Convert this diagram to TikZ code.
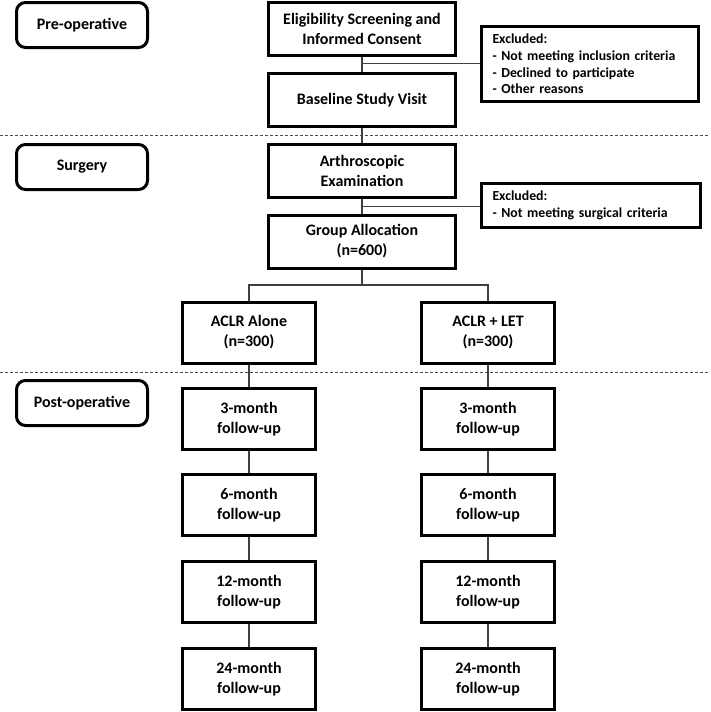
\documentclass[tikz,border=0pt]{standalone}
\usepackage{fontspec}
\setmainfont{Carlito}
\usetikzlibrary{calc}
\begin{document}
\begin{tikzpicture}[x=1pt,y=-1pt,
  mainfont/.style={font=\bfseries\fontsize{16}{20}\selectfont},
  stagebox/.style={draw=black, line width=3pt, rounded corners=9pt, minimum width=131pt, minimum height=45pt, align=center, inner sep=1pt, mainfont},
  flowbox/.style={draw=black, line width=3pt, minimum width=187pt, minimum height=53pt, align=center, inner sep=1pt, mainfont},
  armbox/.style={draw=black, line width=3pt, minimum width=133pt, minimum height=61pt, align=center, inner sep=1pt, mainfont},
  exclbox/.style={draw=black, line width=3pt, align=left, inner xsep=11pt, inner ysep=1pt, font=\bfseries\fontsize{13.8}{16.8}\selectfont},
  conn/.style={draw=black!75, line width=1.1pt},
  divider/.style={draw=black!70, line width=0.9pt, dash pattern=on 3pt off 2pt}
]
\useasboundingbox (0,0) rectangle (710,712);

% dividers
\coordinate (d1l) at (0,135);
\coordinate (d1r) at (708,135);
\coordinate (d2l) at (0,372);
\coordinate (d2r) at (710,372);
\draw[divider] (d1l) -- (d1r);
\draw[divider] (d2l) -- (d2r);

% stage labels
\node[stagebox] (pre) at (82,25) {Pre-operative};
\node[stagebox] (surg) at (82,167) {Surgery};
\node[stagebox] (post) at (82,403) {Post-operative};

% main column
\node[flowbox] (elig) at (362,28.5) {Eligibility Screening and\\Informed Consent};
\node[flowbox] (base) at (362,100) {Baseline Study Visit};
\node[flowbox] (arth) at (362,170.5) {Arthroscopic\\Examination};
\node[flowbox] (grp) at (362,241.5) {Group Allocation\\(n=600)};

% exclusion boxes
\node[exclbox, text width=195pt, minimum height=75pt] (ex1) at (590,64) {Excluded:\\- Not meeting inclusion criteria\\- Declined to participate\\- Other reasons};
\node[exclbox, text width=197pt, minimum height=44pt] (ex2) at (591,205.5) {Excluded:\\- Not meeting surgical criteria};

% arms
\node[armbox] (a0) at (249,332.5) {ACLR Alone\\(n=300)};
\node[armbox] (b0) at (488,332.5) {ACLR + LET\\(n=300)};
\node[armbox] (a1) at (249,419) {3-month\\follow-up};
\node[armbox] (b1) at (488,419) {3-month\\follow-up};
\node[armbox] (a2) at (249,505) {6-month\\follow-up};
\node[armbox] (b2) at (488,505) {6-month\\follow-up};
\node[armbox] (a3) at (249,592) {12-month\\follow-up};
\node[armbox] (b3) at (488,592) {12-month\\follow-up};
\node[armbox] (a4) at (249,679) {24-month\\follow-up};
\node[armbox] (b4) at (488,679) {24-month\\follow-up};

% connectors
\coordinate (m1) at ($(elig.south)!0.45!(base.north)$);
\coordinate (m2) at ($(arth.south)!0.55!(grp.north)$);
\draw[conn] (elig.south) -- (base.north);
\draw[conn] (m1) -- (m1 -| ex1.west);
\draw[conn] (base.south) -- (arth.north);
\draw[conn] (arth.south) -- (grp.north);
\draw[conn] (m2) -- (m2 -| ex2.west);
\coordinate (br) at (362,285);
\draw[conn] (grp.south) -- (br);
\draw[conn] (a0.north) |- (br) -| (b0.north);
\foreach \i/\j in {0/1,1/2,2/3,3/4}{
  \draw[conn] (a\i.south) -- (a\j.north);
  \draw[conn] (b\i.south) -- (b\j.north);
}
\end{tikzpicture}
\end{document}
